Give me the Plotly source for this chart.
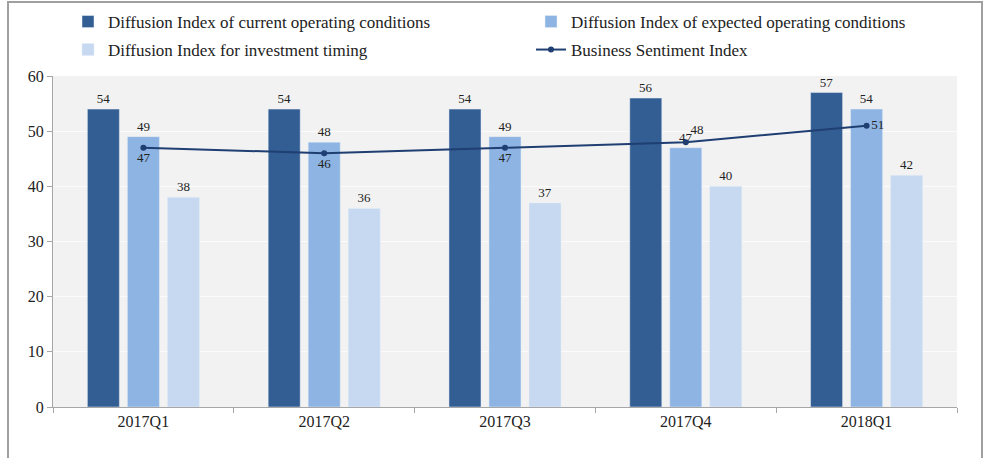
import plotly.graph_objects as go

quarters = ["2017Q1", "2017Q2", "2017Q3", "2017Q4", "2018Q1"]
current_di = [54, 54, 54, 56, 57]
expected_di = [49, 48, 49, 47, 54]
investment_di = [38, 36, 37, 40, 42]
bsi = [47, 46, 47, 48, 51]
bsi_text_pos = ["bottom center", "bottom center", "bottom center", "top right", "middle right"]

FONT = "Liberation Serif"
c_dark = "#335e93"
c_mid = "#8db4e2"
c_light = "#c6d9f1"
c_line = "#1f3e72"
LBL = dict(size=13, color="#222", family=FONT)

fig = go.Figure()
fig.add_trace(go.Bar(x=quarters, y=current_di, name="Diffusion Index of current operating conditions",
                     marker_color=c_dark, text=current_di, textposition="outside", showlegend=True,
                     textfont=LBL, cliponaxis=False, legend="legend"))
fig.add_trace(go.Bar(x=quarters, y=expected_di, name="Diffusion Index of expected operating conditions",
                     marker_color=c_mid, text=expected_di, textposition="outside", showlegend=True,
                     textfont=LBL, cliponaxis=False, legend="legend2"))
fig.add_trace(go.Bar(x=quarters, y=investment_di, name="Diffusion Index for investment timing",
                     marker_color=c_light, text=investment_di, textposition="outside", showlegend=True,
                     textfont=LBL, cliponaxis=False, legend="legend3"))
fig.add_trace(go.Scatter(x=quarters, y=bsi, name="Business Sentiment Index", mode="lines+markers+text",
                         line=dict(color=c_line, width=2), marker=dict(size=6, color=c_line),
                         text=bsi, textposition=bsi_text_pos, showlegend=True,
                         textfont=LBL, cliponaxis=False, legend="legend4"))

L, R, T, B = 53, 37, 76, 51
W, H = 994, 458
pw, ph = W - L - R, H - T - B

def px_x(x):
    return (x - L) / pw

def px_y(y):
    return (H - B - y) / ph

LEG = dict(orientation="h", xref="container", yref="container",
           xanchor="left", yanchor="middle",
           font=dict(size=17, family=FONT, color="#222"), bgcolor="rgba(0,0,0,0)",
           itemclick=False)
col1, col2 = 68 / W, 531 / W
row1, row2 = 1 - 22 / H, 1 - 50 / H

fig.update_layout(
    width=W, height=H,
    showlegend=True,
    margin=dict(l=L, r=R, t=T, b=B, autoexpand=False),
    paper_bgcolor="white",
    plot_bgcolor="#f2f2f2",
    barmode="group",
    bargap=0.336,
    bargroupgap=0.2,
    font=dict(family=FONT, size=16, color="#222"),
    legend=dict(LEG, x=col1, y=row1),
    legend2=dict(LEG, x=col2, y=row1),
    legend3=dict(LEG, x=col1, y=row2),
    legend4=dict(LEG, x=col2, y=row2),
    xaxis=dict(showline=True, linecolor="#a6a6a6", linewidth=1, ticks="outside", tickson="boundaries",
               ticklen=5, tickcolor="#a6a6a6", tickfont=dict(size=16, family=FONT, color="#222"),
               showgrid=False),
    yaxis=dict(range=[0, 60], dtick=10, showline=True, linecolor="#a6a6a6", linewidth=1,
               ticks="outside", ticklen=5, tickcolor="#a6a6a6", gridcolor="#fbfbfb", gridwidth=1,
               tickfont=dict(size=16, family=FONT, color="#222"), zeroline=False),
    shapes=[dict(type="rect", xref="paper", yref="paper",
                 x0=px_x(8), x1=px_x(982), y0=px_y(470), y1=px_y(2),
                 line=dict(color="#a0a0a0", width=2), fillcolor="rgba(0,0,0,0)", layer="below")],
)

fig.write_html("out.html", config={"displayModeBar": False},
               post_script="document.body.style.margin='0';")
